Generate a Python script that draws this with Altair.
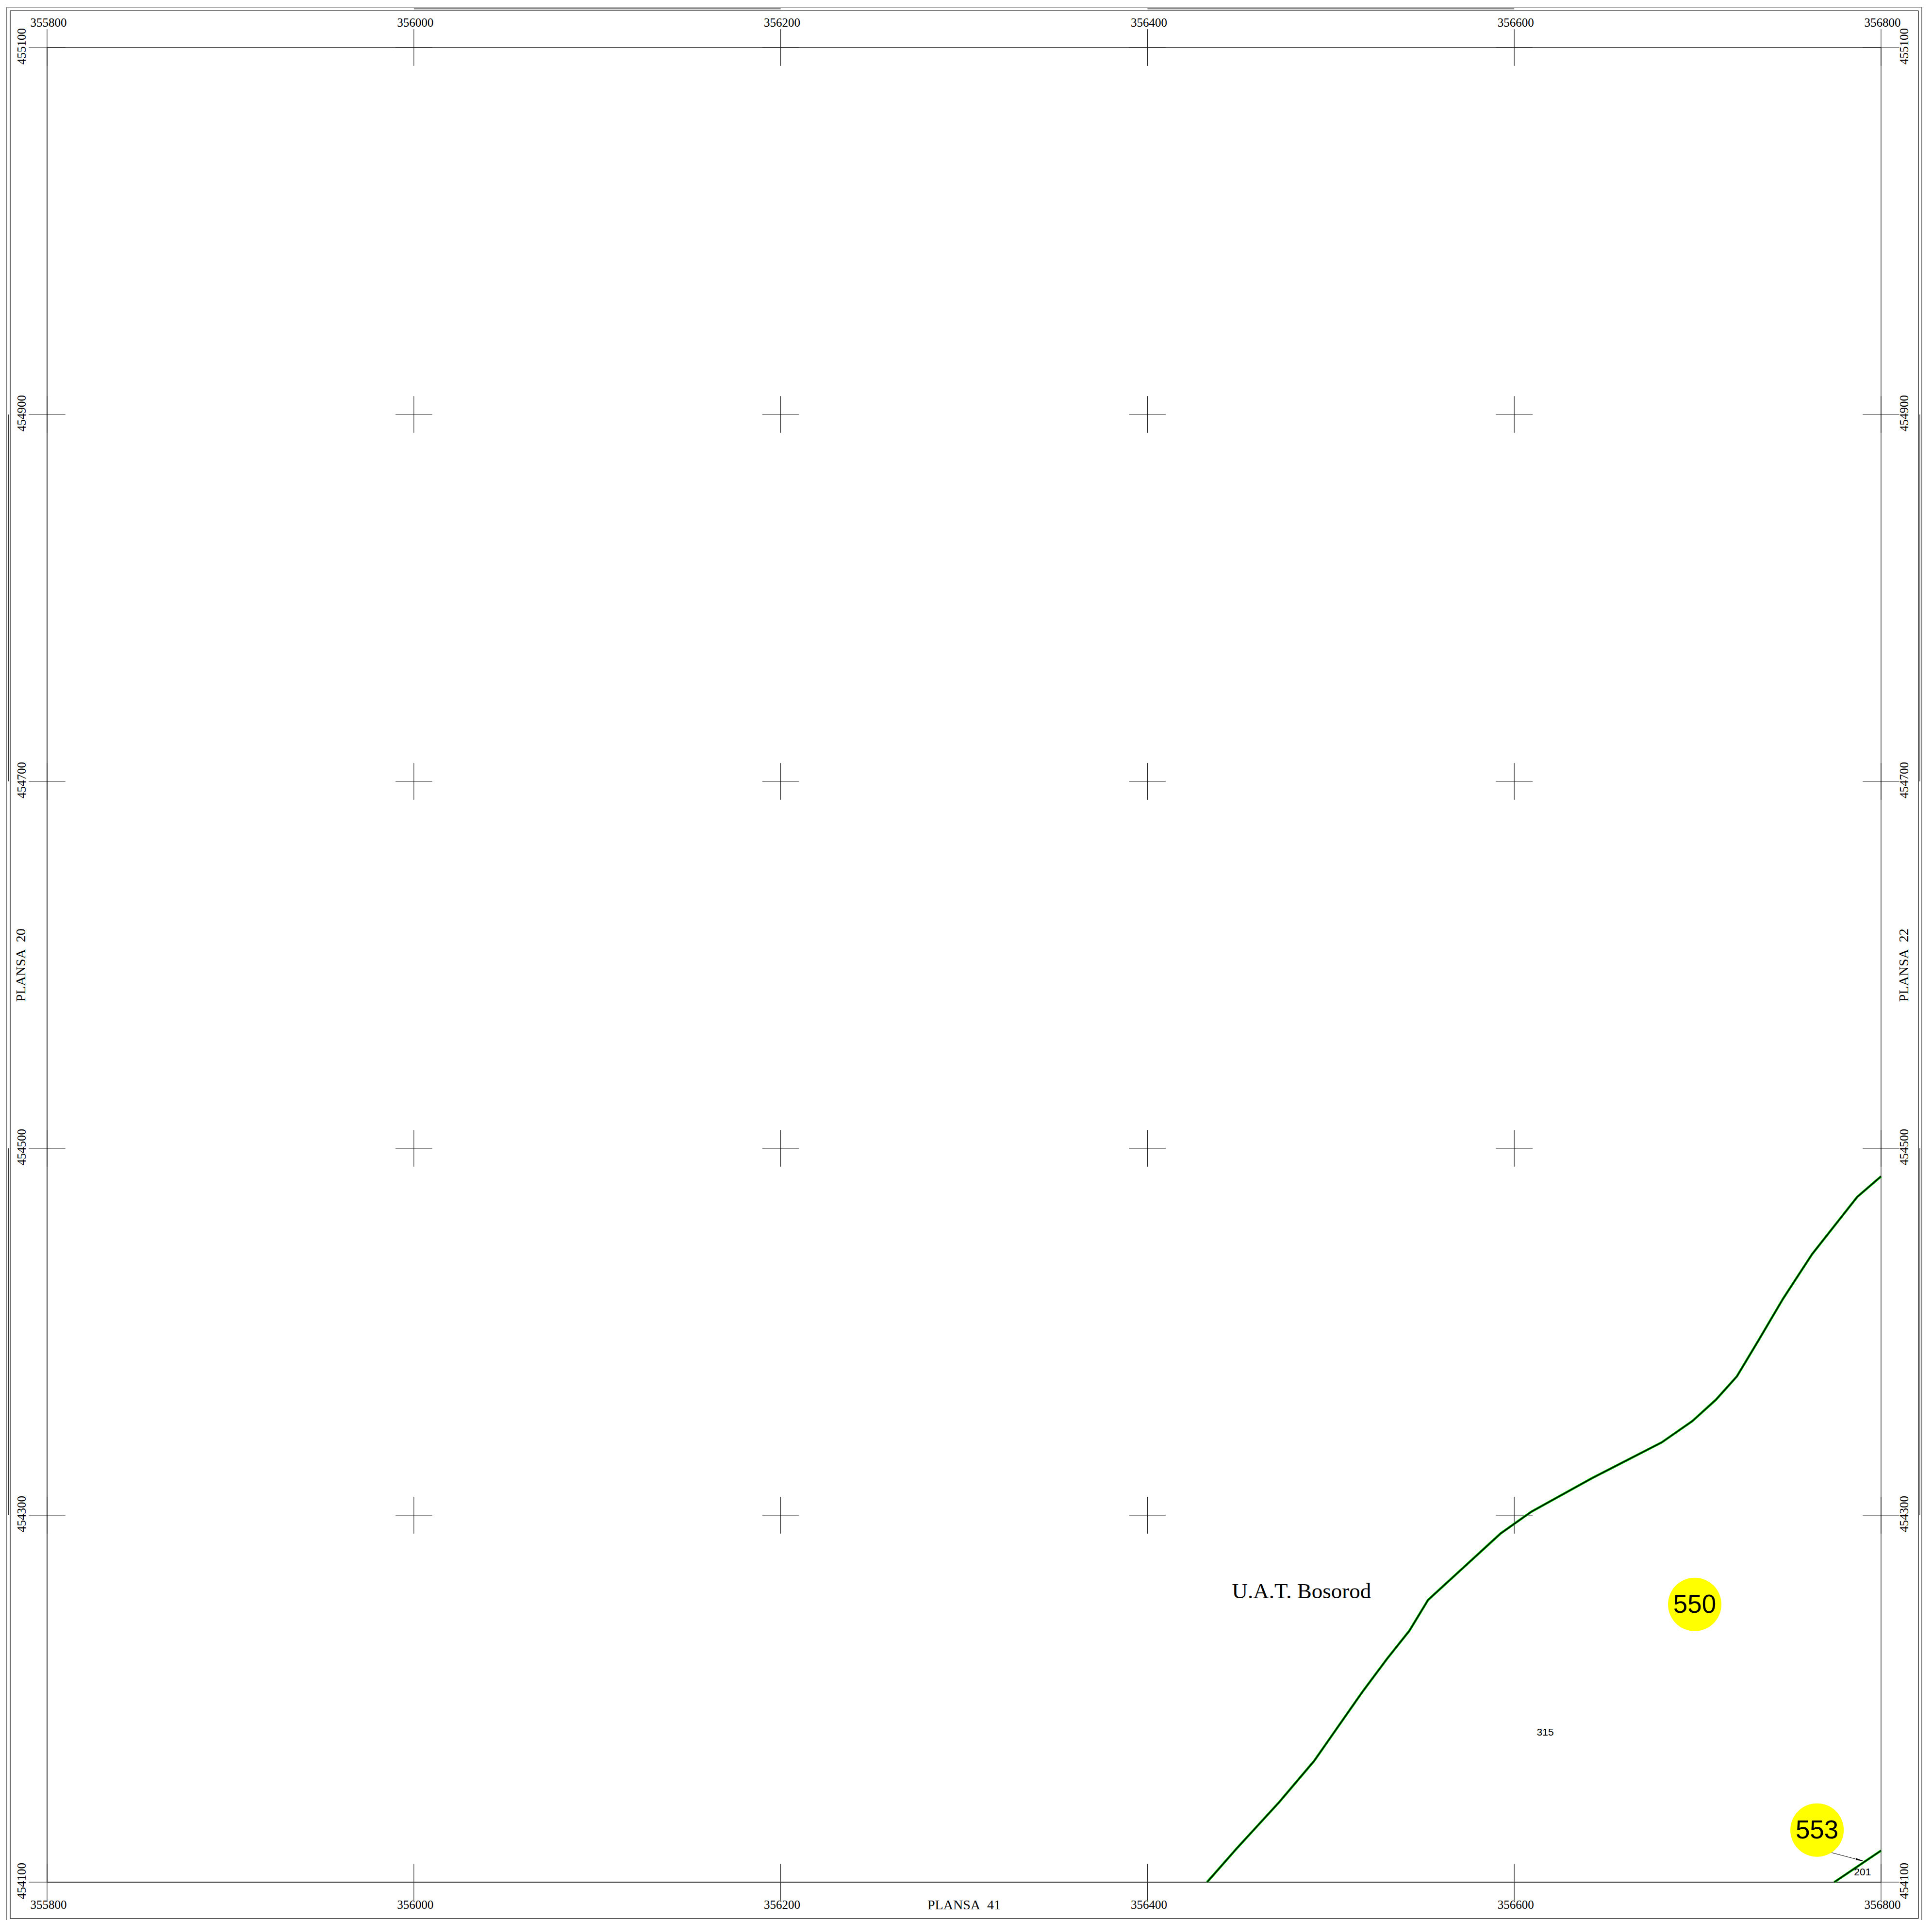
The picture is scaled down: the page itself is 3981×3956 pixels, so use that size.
import altair as alt
import pandas as pd

X_TICKS = [355800, 356000, 356200, 356400, 356600, 356800]
Y_TICKS = [454100, 454300, 454500, 454700, 454900, 455100]
ARM = 10

CURVE_X = [356432.5, 356448.6, 356471.9, 356490.9, 356503.9, 356517.4, 356530.6, 356542.8,
           356553.0, 356592.5, 356609.3, 356642.2, 356680.4, 356697.1, 356710.0, 356721.4,
           356733.3, 356746.5, 356762.4, 356787.0, 356800.0]
CURVE_Y = [454100.0, 454118.3, 454143.7, 454166.1, 454184.7, 454204.0, 454221.7, 454237.0,
           454253.8, 454290.0, 454301.9, 454320.1, 454339.7, 454351.3, 454363.0, 454375.7,
           454395.5, 454417.9, 454442.3, 454473.5, 454484.7]
CURVE2_X = [356774.5, 356800.0]
CURVE2_Y = [454100.0, 454117.2]

CIRCLE_X = [356698.4, 356765.1]
CIRCLE_Y = [454251.4, 454128.4]
CIRCLE_LABEL = ["550", "553"]

SMALL_X = [356616.9, 356789.9]
SMALL_Y = [454181.6, 454105.3]
SMALL_LABEL = ["315", "201"]

ARROW_X = [356773.0, 356790.7]
ARROW_Y = [454116.1, 454111.4]
HEAD_X = [356788.5]
HEAD_Y = [454112.0]

UAT_X = [356484.0]
UAT_Y = [454258.5]
UAT_LABEL = ["U.A.T. Bosorod"]

# frame lines: position and extents
OUTER = dict(left=355778.0, right=356822.2, top=455122.0, bottom=454078.8)
INNER = dict(left=355779.9, right=356820.4, top=455120.1, bottom=454080.2)
BAND = dict(left=355779.0, right=356821.1, top=455121.1)

xs = alt.Scale(domain=[355776.45, 356825.67], nice=False, zero=False)
ys = alt.Scale(domain=[454079.37, 455123.81], nice=False, zero=False)
X = lambda f: alt.X(f, type="quantitative", scale=xs, axis=None)
Y = lambda f: alt.Y(f, type="quantitative", scale=ys, axis=None)


def hrule(rows, color, width):
    df = pd.DataFrame(rows, columns=["a", "b", "y"])
    return alt.Chart(df).mark_rule(color=color, strokeWidth=width).encode(
        x=X("a"), x2=alt.X2("b"), y=Y("y"))


def vrule(rows, color, width):
    df = pd.DataFrame(rows, columns=["x", "a", "b"])
    return alt.Chart(df).mark_rule(color=color, strokeWidth=width).encode(
        x=X("x"), y=Y("a"), y2=alt.Y2("b"))


def labels(xv, yv, tv, size, font, angle=0, dx=0, dy=0):
    df = pd.DataFrame({"x": xv, "y": yv, "t": tv})
    return alt.Chart(df).mark_text(
        font=font, fontSize=size, color="#000000", align="center", baseline="middle",
        angle=angle, dx=dx, dy=dy).encode(x=X("x"), y=Y("y"), text="t:N")


SERIF = "Liberation Serif"
SANS = "Liberation Sans"
layers = []

# outer frames
layers.append(vrule([[OUTER["left"], OUTER["bottom"], OUTER["top"]],
                     [OUTER["right"], OUTER["bottom"], OUTER["top"]]], "#666666", 1.5))
layers.append(hrule([[OUTER["left"], OUTER["right"], OUTER["top"]]], "#666666", 1.5))
layers.append(vrule([[INNER["left"], INNER["bottom"], INNER["top"]],
                     [INNER["right"], INNER["bottom"], INNER["top"]]], "#000000", 1.2))
layers.append(hrule([[INNER["left"], INNER["right"], INNER["top"]],
                     [INNER["left"], INNER["right"], INNER["bottom"]]], "#000000", 1.2))

# alternating bands in the frame
layers.append(hrule([[356000, 356200, BAND["top"]], [356400, 356600, BAND["top"]]], "#666666", 2))
layers.append(vrule([[BAND["left"], 454300, 454500], [BAND["left"], 454700, 454900]], "#333333", 1.4))
layers.append(vrule([[BAND["right"], 454300, 454500], [BAND["right"], 454700, 454900]], "#777777", 2))

# crosses
layers.append(hrule([[x - ARM, x + ARM, y] for x in X_TICKS for y in Y_TICKS], "#222222", 1))
layers.append(vrule([[x, y - ARM, y + ARM] for x in X_TICKS for y in Y_TICKS], "#111111", 1))

# map neatline
layers.append(vrule([[X_TICKS[0], Y_TICKS[0], Y_TICKS[-1]]], "#000000", 1.5))
layers.append(vrule([[X_TICKS[-1], Y_TICKS[0], Y_TICKS[-1]]], "#000000", 1.1))
layers.append(hrule([[X_TICKS[0], X_TICKS[-1], Y_TICKS[-1]]], "#222222", 1.5))
layers.append(hrule([[X_TICKS[0], X_TICKS[-1], Y_TICKS[0]]], "#333333", 2))

# boundary lines
for cx, cy in ((CURVE_X, CURVE_Y), (CURVE2_X, CURVE2_Y)):
    df = pd.DataFrame({"x": cx, "y": cy, "o": range(len(cx))})
    for color, width in (("#00dd00", 5), ("#000000", 2.6)):
        layers.append(alt.Chart(df).mark_line(color=color, strokeWidth=width).encode(
            x=X("x"), y=Y("y"), order="o:Q"))

# circles
layers.append(alt.Chart(pd.DataFrame({"x": CIRCLE_X, "y": CIRCLE_Y})).mark_point(
    shape="circle", filled=True, color="#ffff00", opacity=1, size=12100, strokeWidth=0
).encode(x=X("x"), y=Y("y")))
layers.append(labels(CIRCLE_X, CIRCLE_Y, CIRCLE_LABEL, 53, SANS, dy=1))

# arrow
layers.append(alt.Chart(pd.DataFrame({"x": ARROW_X, "y": ARROW_Y, "o": [0, 1]})).mark_line(
    color="#000000", strokeWidth=1).encode(x=X("x"), y=Y("y"), order="o:Q"))
layers.append(alt.Chart(pd.DataFrame({"x": HEAD_X, "y": HEAD_Y})).mark_point(
    shape="M-1,-0.24L1,0L-1,0.24Z", filled=True, color="#000000", opacity=1, size=289,
    angle=15, strokeWidth=0).encode(x=X("x"), y=Y("y")))

layers.append(labels(SMALL_X, SMALL_Y, SMALL_LABEL, 21, SANS))
layers.append(labels(UAT_X, UAT_Y, UAT_LABEL, 45, SERIF))

# coordinate labels (dx, dy follow the rotated text direction)
xt = [str(v) for v in X_TICKS]
yt = [str(v) for v in Y_TICKS]
layers.append(labels(X_TICKS, [Y_TICKS[-1]] * 6, xt, 25, SERIF, dx=3, dy=-51))
layers.append(labels(X_TICKS, [Y_TICKS[0]] * 6, xt, 25, SERIF, dx=3, dy=47))
layers.append(labels([X_TICKS[0]] * 6, Y_TICKS, yt, 25, SERIF, angle=270, dx=2.5, dy=-52))
layers.append(labels([X_TICKS[-1]] * 6, Y_TICKS, yt, 25, SERIF, angle=270, dx=2.5, dy=48))

# neighbouring sheets
layers.append(labels([X_TICKS[0]], [454599.8], ["PLANSA\u00a0\u00a020"], 28, SERIF, angle=270, dy=-53))
layers.append(labels([X_TICKS[-1]], [454599.8], ["PLANSA\u00a0\u00a022"], 28, SERIF, angle=270, dy=48))
layers.append(labels([356300.0], [Y_TICKS[0]], ["PLANSA\u00a0\u00a041"], 28, SERIF, dy=48))

chart = alt.layer(*layers).properties(
    width=3965, height=3948, padding=0,
    autosize=alt.AutoSizeParams(type="none"), background="#ffffff"
).configure_view(stroke=None)

chart.save("out.html", embed_options={"renderer": "svg", "actions": False})
